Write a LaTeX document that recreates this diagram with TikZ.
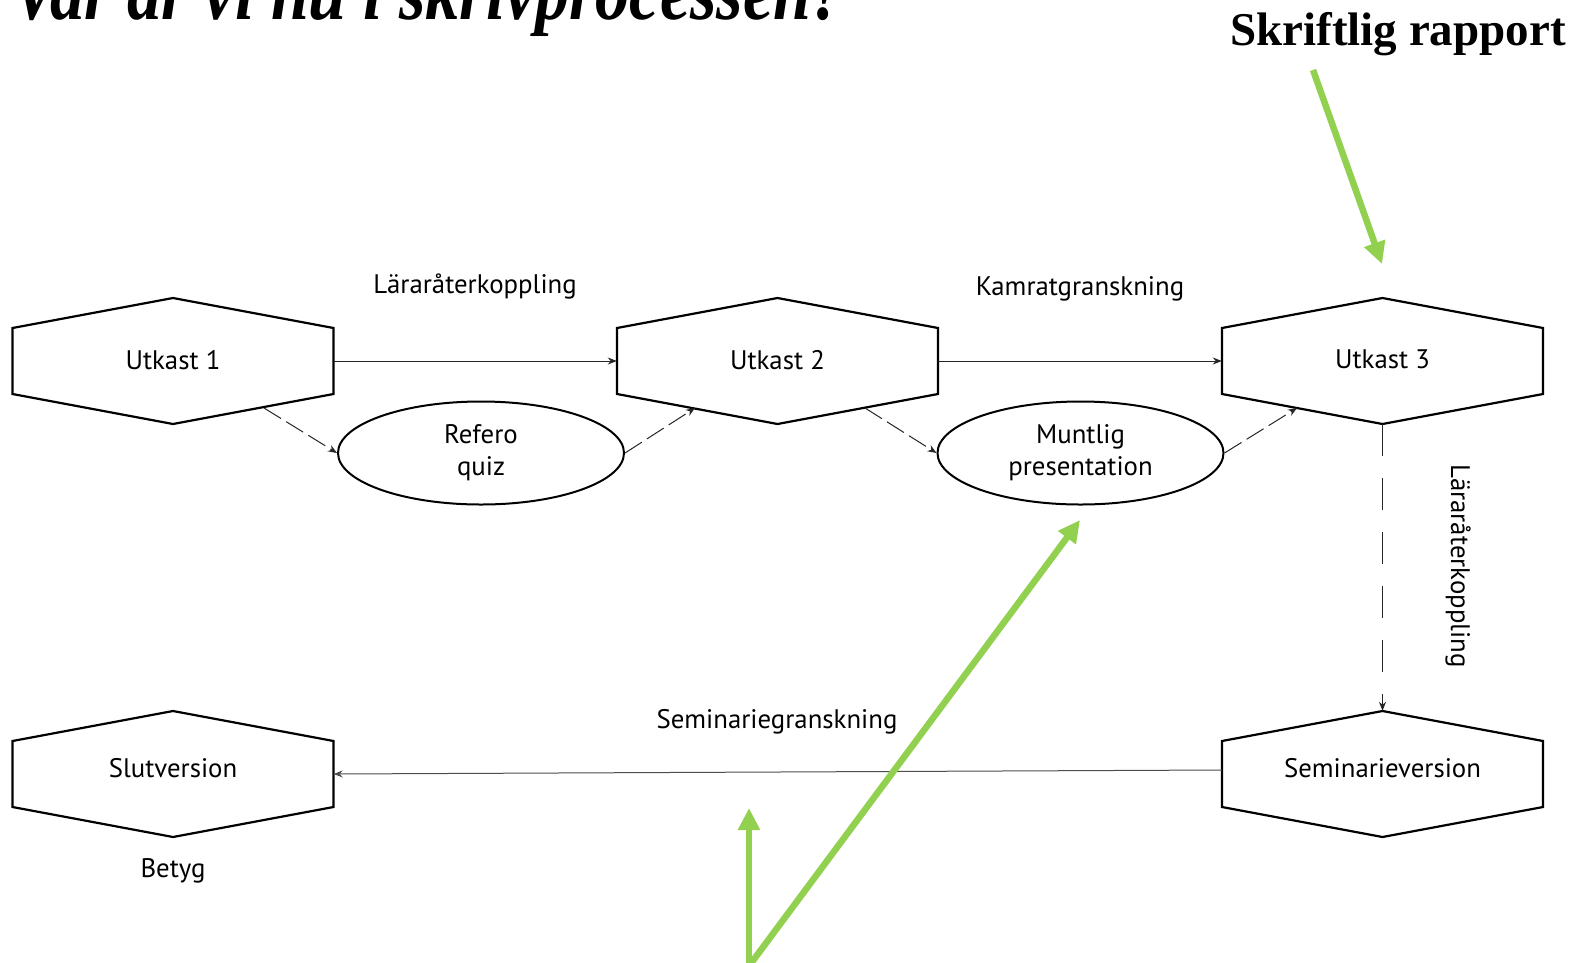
\documentclass[tikz,border=0pt]{standalone}
\usepackage{fontspec}
\setmainfont{PT Sans}
\newfontfamily\titlefont{Liberation Serif}
\usetikzlibrary{arrows.meta,shapes.geometric,calc}
\definecolor{arrowgreen}{HTML}{92D050}
\newcommand\diagfont{\fontsize{26.8}{32}\selectfont}
\tikzset{
  hexbox/.style={rectangle, minimum width=321pt, minimum height=126pt, inner sep=0pt, font=\diagfont},
  hexline/.style={line width=2.2pt, line join=miter},
  ellbox/.style={ellipse, draw, line width=2pt, minimum width=286pt, minimum height=103pt, inner sep=0pt, align=center, font=\diagfont},
  conn/.style={draw=black!85, line width=1pt, -{Stealth[length=9pt,width=7pt]}},
  dconn/.style={conn, dash pattern=on 20pt off 6pt},
  vconn/.style={conn, dash pattern=on 32pt off 22pt},
  lbl/.style={font=\diagfont, inner sep=0pt},
  greenarrow/.style={draw=arrowgreen, line width=6.5pt, -{Triangle[length=22pt,width=21pt]}},
}
\newcommand\hexat[4]{%
  \node[hexbox] (#1) at (#2) {\raisebox{#4}{#3}};
  \draw[hexline] ([shift={(-160.5,-33)}]#1.center) -- ([shift={(0,-63)}]#1.center)
    -- ([shift={(160.5,-33)}]#1.center) -- ([shift={(160.5,33)}]#1.center)
    -- ([shift={(0,63)}]#1.center) -- ([shift={(-160.5,33)}]#1.center) -- cycle;
}
\begin{document}
\begin{tikzpicture}[x=1pt,y=-1pt]
\useasboundingbox (0,0) rectangle (1580,962);
% titles
\node[anchor=base west, inner sep=0pt] (title) at (12,19)
  {\scalebox{0.85}[1]{\fontsize{80}{82}\selectfont\titlefont\bfseries\itshape Var är vi nu i skrivprocessen?}};
\node[anchor=base west, inner sep=0pt] (sr) at (1230,45)
  {\fontsize{47}{50}\selectfont\titlefont\bfseries Skriftlig rapport};
% hexagons
\hexat{u1}{173,361}{Utkast 1}{3pt}
\hexat{u2}{777.5,361}{Utkast 2}{3pt}
\hexat{u3}{1382.5,361}{Utkast 3}{3pt}
\hexat{sl}{173,774}{Slutversion}{12pt}
\hexat{sv}{1382.5,774}{Seminarieversion}{12pt}
% ellipses
\node[ellbox] (r1) at (481,453) {Refero\\quiz};
\node[ellbox] (m1) at (1080.5,453) {Muntlig\\presentation};
% labels
\node[lbl] (l1) at (475,286) {Läraråterkoppling};
\node[lbl] (l2) at (1080,289) {Kamratgranskning};
\node[lbl] (l3) at (777,722) {Seminariegranskning};
\node[lbl] (l4) at (173,871) {Betyg};
\node[lbl, rotate=-90] (l5) at (1458,566) {Läraråterkoppling};
% connectors
\draw[conn] (u1.east) -- (u2.west);
\draw[conn] (u2.east) -- (u3.west);
\draw[dconn] ($(u1.center)+(91,47)$) -- (r1.west);
\draw[dconn] (r1.east) -- ($(u2.center)+(-82.5,47)$);
\draw[dconn] ($(u2.center)+(87.5,47)$) -- (m1.west);
\draw[dconn] (m1.east) -- ($(u3.center)+(-85.5,47)$);
\draw[vconn] (u3.south) -- (sv.north);
\draw[conn, draw=black!70] ([yshift=4pt]sv.west) -- (sl.east);
% green arrows
\coordinate (g1s) at (1313,70);
\coordinate (g1e) at (1382,264);
\coordinate (g2s) at (749,966);
\coordinate (g2e) at (749,808);
\coordinate (g3e) at (1080,520);
\draw[greenarrow] (g1s) -- (g1e);
\draw[greenarrow] (g2s) -- (g2e);
\draw[greenarrow] (g2s) -- (g3e);
\end{tikzpicture}
\end{document}
